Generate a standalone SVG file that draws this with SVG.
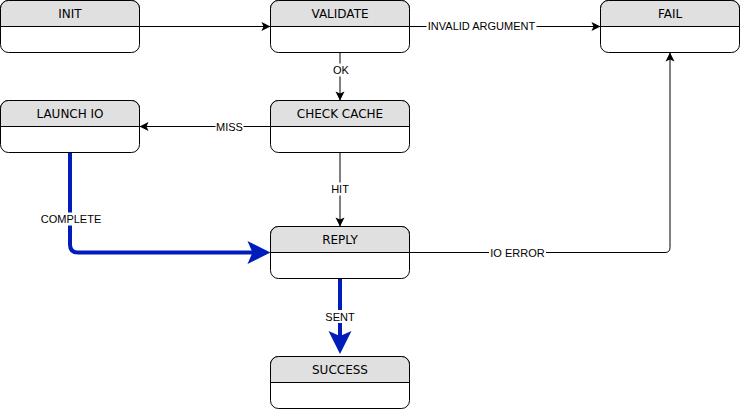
<svg xmlns="http://www.w3.org/2000/svg" width="741" height="409" viewBox="0 0 741 409">
<style>
.body{fill:#ffffff;stroke:#000000;stroke-width:1}
.head{fill:#e0e0e0;stroke:#000000;stroke-width:1}
.title{font-family:"DejaVu Sans",Verdana,sans-serif;font-size:12px;fill:#000000;text-anchor:middle}
.edge{fill:none;stroke:#000000;stroke-width:1}
.thick{fill:none;stroke:#001DBC;stroke-width:4}
.lbl{font-family:"Liberation Sans",Arial,sans-serif;font-size:11px;fill:#000000;text-anchor:middle}
.lblbg{fill:#ffffff;stroke:none}
</style>
<defs>
<marker id="arr" markerUnits="userSpaceOnUse" markerWidth="10" markerHeight="10" refX="9" refY="4.5" orient="auto" overflow="visible">
<path d="M0,0 L9,4.5 L0,9 L2,4.5 Z" fill="#000000"/>
</marker>
<marker id="barr" markerUnits="userSpaceOnUse" markerWidth="24" markerHeight="24" refX="10" refY="11.5" orient="auto" overflow="visible">
<path d="M0,0 L23,11.5 L0,23 L5,11.5 Z" fill="#001DBC"/>
</marker>
</defs>

<g id="connectors">
<path id="e-init-validate" class="edge" d="M139.5,26.5 H270.5" marker-end="url(#arr)"/>
<path id="e-validate-fail" class="edge" d="M409.5,26.5 H600.5" marker-end="url(#arr)"/>
<path id="e-validate-check" class="edge" d="M340,52.5 V100.5" marker-end="url(#arr)"/>
<path id="e-check-launch" class="edge" d="M270.5,126.5 H139.5" marker-end="url(#arr)"/>
<path id="e-check-reply" class="edge" d="M340,152.5 V226.5" marker-end="url(#arr)"/>
<path id="e-reply-fail" class="edge" d="M409.5,252.5 H665 Q670,252.5 670,247.5 V52.5" marker-end="url(#arr)"/>
<path id="e-launch-reply" class="thick" d="M70,152.5 V244.5 Q70,252.5 78,252.5 H257.5" marker-end="url(#barr)"/>
<path id="e-reply-success" class="thick" d="M340,278.5 V341" marker-end="url(#barr)"/>

<rect class="lblbg" x="426.5" y="20" width="110" height="13"/>
<text class="lbl" x="481.5" y="30.4">INVALID ARGUMENT</text>
<rect class="lblbg" x="332" y="63.5" width="18" height="13"/>
<text class="lbl" x="341" y="74">OK</text>
<rect class="lblbg" x="215.5" y="120.5" width="28" height="13"/>
<text class="lbl" x="229.5" y="131">MISS</text>
<rect class="lblbg" x="330" y="182.5" width="20" height="13"/>
<text class="lbl" x="340" y="193">HIT</text>
<rect class="lblbg" x="40" y="212.5" width="62" height="13"/>
<text class="lbl" x="71" y="223">COMPLETE</text>
<rect class="lblbg" x="489" y="246.5" width="57" height="13"/>
<text class="lbl" x="517.5" y="257">IO ERROR</text>
<rect class="lblbg" x="324" y="310" width="32" height="13"/>
<text class="lbl" x="340" y="320.5">SENT</text>
</g>

<g id="node-init">
<rect class="body" x="0.5" y="0.5" width="139" height="52" rx="8" ry="8"/>
<path class="head" d="M0.5,26.5 V8.5 A8,8 0 0 1 8.5,0.5 H131.5 A8,8 0 0 1 139.5,8.5 V26.5 Z"/>
<text class="title" x="70" y="18">INIT</text>
</g>
<g id="node-validate">
<rect class="body" x="270.5" y="0.5" width="139" height="52" rx="8" ry="8"/>
<path class="head" d="M270.5,26.5 V8.5 A8,8 0 0 1 278.5,0.5 H401.5 A8,8 0 0 1 409.5,8.5 V26.5 Z"/>
<text class="title" x="340" y="18">VALIDATE</text>
</g>
<g id="node-fail">
<rect class="body" x="600.5" y="0.5" width="139" height="52" rx="8" ry="8"/>
<path class="head" d="M600.5,26.5 V8.5 A8,8 0 0 1 608.5,0.5 H731.5 A8,8 0 0 1 739.5,8.5 V26.5 Z"/>
<text class="title" x="670" y="18">FAIL</text>
</g>
<g id="node-launch-io">
<rect class="body" x="0.5" y="100.5" width="139" height="52" rx="8" ry="8"/>
<path class="head" d="M0.5,126.5 V108.5 A8,8 0 0 1 8.5,100.5 H131.5 A8,8 0 0 1 139.5,108.5 V126.5 Z"/>
<text class="title" x="70" y="118">LAUNCH IO</text>
</g>
<g id="node-check-cache">
<rect class="body" x="270.5" y="100.5" width="139" height="52" rx="8" ry="8"/>
<path class="head" d="M270.5,126.5 V108.5 A8,8 0 0 1 278.5,100.5 H401.5 A8,8 0 0 1 409.5,108.5 V126.5 Z"/>
<text class="title" x="340" y="118">CHECK CACHE</text>
</g>
<g id="node-reply">
<rect class="body" x="270.5" y="226.5" width="139" height="52" rx="8" ry="8"/>
<path class="head" d="M270.5,252.5 V234.5 A8,8 0 0 1 278.5,226.5 H401.5 A8,8 0 0 1 409.5,234.5 V252.5 Z"/>
<text class="title" x="340" y="244">REPLY</text>
</g>
<g id="node-success">
<rect class="body" x="270.5" y="356.5" width="139" height="52" rx="8" ry="8"/>
<path class="head" d="M270.5,382.5 V364.5 A8,8 0 0 1 278.5,356.5 H401.5 A8,8 0 0 1 409.5,364.5 V382.5 Z"/>
<text class="title" x="340" y="374">SUCCESS</text>
</g>
</svg>
